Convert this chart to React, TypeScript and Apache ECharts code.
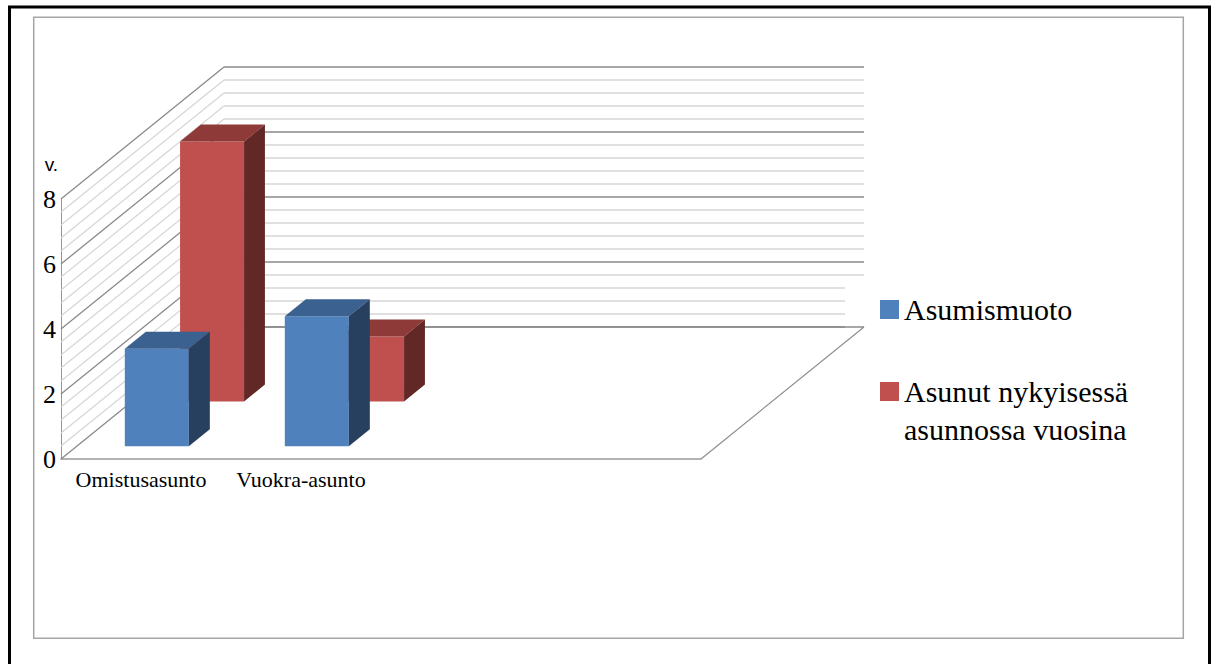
import React, { useEffect, useRef } from "react";
import * as echarts from "echarts";

// ---- data ----
const categories = ["Omistusasunto", "Vuokra-asunto", "", ""];
const seriesNames = ["Asumismuoto", "Asunut nykyisessä asunnossa vuosina"];
const asumismuoto = [3, 4];
const asunut = [8, 2];
const yMin = 0;
const yMax = 8;
const yInterval = 2;
const yMinorSplit = 5;

// ---- 3D look (style constants) ----
const DEPTH_X = 163 / 640; // depth shift as share of plot width
const DEPTH_Y = 132 / 260; // depth shift as share of plot height
const SERIF = "Liberation Serif";
const SANS = "Liberation Sans";

function depthVec(cs: any) {
  return [cs.width * DEPTH_X, -cs.height * DEPTH_Y];
}

function makeBar3d(d0: number, d1: number, front: string, top: string, side: string) {
  return (params: any, api: any) => {
    const cs = params.coordSys;
    const [Dx, Dy] = depthVec(cs);
    const cat = api.value(0);
    const val = api.value(1);
    const b = api.coord([cat, 0]);
    const t = api.coord([cat, val]);
    const band = api.size([1, 0])[0];
    const w = band * 0.4;
    const xl = b[0] - w / 2;
    const xr = b[0] + w / 2;
    const p = (x: number, y: number, d: number) => [x + Dx * d, y + Dy * d];
    return {
      type: "group",
      children: [
        {
          type: "polygon",
          shape: { points: [p(xl, t[1], d0), p(xr, t[1], d0), p(xr, b[1], d0), p(xl, b[1], d0)] },
          style: { fill: front },
        },
        {
          type: "polygon",
          shape: { points: [p(xl, t[1], d0), p(xr, t[1], d0), p(xr, t[1], d1), p(xl, t[1], d1)] },
          style: { fill: top },
        },
        {
          type: "polygon",
          shape: { points: [p(xr, t[1], d0), p(xr, t[1], d1), p(xr, b[1], d1), p(xr, b[1], d0)] },
          style: { fill: side },
        },
      ],
    };
  };
}

function renderSideWall(params: any, api: any) {
  const cs = params.coordSys;
  const [Dx, Dy] = depthVec(cs);
  const children: any[] = [];
  const steps = ((yMax - yMin) / yInterval) * yMinorSplit;
  for (let k = steps; k >= 0; k--) {
    const v = yMin + (k * yInterval) / yMinorSplit;
    const y = api.coord([0, v])[1];
    const major = k % yMinorSplit === 0;
    children.push({
      type: "line",
      shape: { x1: cs.x, y1: y, x2: cs.x + Dx, y2: y + Dy },
      style: { stroke: major ? "#8a8a8a" : "#d6d6d6", lineWidth: major ? 1.3 : 1.2 },
      z2: major ? 2 : 1,
    });
  }
  return { type: "group", children };
}

function renderBackEdge(params: any, api: any) {
  const cs = params.coordSys;
  const [Dx, Dy] = depthVec(cs);
  const y0 = api.coord([0, yMin])[1];
  return {
    type: "line",
    shape: { x1: cs.x + Dx, y1: y0 + Dy, x2: cs.x + cs.width + Dx, y2: y0 + Dy },
    style: { stroke: "#8a8a8a", lineWidth: 1.5 },
  };
}

function renderFloorSide(params: any, api: any) {
  const cs = params.coordSys;
  const [Dx, Dy] = depthVec(cs);
  const y0 = api.coord([0, yMin])[1];
  const xr = cs.x + cs.width;
  return {
    type: "line",
    shape: { x1: xr, y1: y0, x2: xr + Dx, y2: y0 + Dy },
    style: { stroke: "#8e8e8e", lineWidth: 1.2 },
  };
}

export default function App() {
  const ref = useRef<HTMLDivElement>(null);
  useEffect(() => {
    if (!ref.current) return;
    const chart = echarts.init(ref.current, undefined, { renderer: "svg" });
    const option: any = {
      animation: false,
      backgroundColor: "#fff",
      grid: [
        { left: 61, top: 199, width: 640, height: 260 },
        { left: 224, top: 67, width: 640, height: 260 },
      ],
      xAxis: [
        {
          type: "category",
          gridIndex: 0,
          data: categories,
          axisLine: { show: true, lineStyle: { color: "#9a9a9a", width: 1.5 } },
          axisTick: { show: false },
          axisLabel: { fontFamily: SERIF, fontSize: 22, color: "#000", margin: 9, interval: 0 },
          splitLine: { show: false },
        },
        {
          type: "value",
          gridIndex: 1,
          min: 0,
          max: 1,
          show: false,
        },
      ],
      yAxis: [
        {
          type: "value",
          gridIndex: 0,
          min: yMin,
          max: yMax,
          interval: yInterval,
          name: "v.",
          nameLocation: "end",
          nameGap: 25,
          nameTextStyle: {
            fontFamily: SANS,
            fontSize: 19,
            color: "#000",
            align: "right",
            verticalAlign: "bottom",
            padding: [0, 3, 0, 0],
          },
          axisLine: { show: true, lineStyle: { color: "#8f8fcf", width: 1 } },
          axisTick: { show: false },
          axisLabel: { fontFamily: SERIF, fontSize: 26, color: "#000", margin: 5 },
          splitLine: { show: false },
        },
        {
          type: "value",
          gridIndex: 1,
          min: yMin,
          max: yMax,
          interval: yInterval,
          axisLine: { show: false },
          axisTick: { show: false },
          axisLabel: { show: false },
          minorTick: { show: false, splitNumber: yMinorSplit },
          splitLine: { show: true, lineStyle: { color: "#8a8a8a", width: 1.5 } },
          minorSplitLine: { show: true, lineStyle: { color: "#d6d6d6", width: 1.5 } },
        },
      ],
      legend: {
        orient: "vertical",
        left: 845,
        top: 282,
        padding: [8.5, 10, 10, 35],
        itemGap: 6,
        itemWidth: 19,
        itemHeight: 19,
        icon: "rect",
        backgroundColor: "#fff",
        selectedMode: false,
        textStyle: { fontFamily: SERIF, fontSize: 30, lineHeight: 38, color: "#000" },
        data: [seriesNames[0], seriesNames[1]],
        formatter: (name: string) =>
          name === seriesNames[1] ? "\n" + name.replace(" asunnossa", "\nasunnossa") : name,
      },
      graphic: [
        {
          type: "rect",
          shape: { x: 9.5, y: 7, width: 1200, height: 700 },
          style: { fill: "none", stroke: "#000", lineWidth: 3 },
          silent: true,
        },
        {
          type: "rect",
          shape: { x: 33.7, y: 17.3, width: 1149.6, height: 621 },
          style: { fill: "none", stroke: "#a5a5a5", lineWidth: 1.5 },
          silent: true,
        },
      ],
      series: [
        {
          type: "custom",
          name: "sideWall",
          data: [[0, 0]],
          renderItem: renderSideWall,
          silent: true,
          clip: false,
          z: 1,
        },
        {
          type: "custom",
          name: "backEdge",
          data: [[0, 0]],
          renderItem: renderBackEdge,
          silent: true,
          clip: false,
          z: 4.5,
        },
        {
          type: "custom",
          name: seriesNames[1],
          data: asunut.map((v, i) => [i, v]),
          renderItem: makeBar3d(0.436, 0.564, "#c0504d", "#8e3a38", "#612826"),
          itemStyle: { color: "#c0504d" },
          clip: false,
          z: 5,
        },
        {
          type: "custom",
          name: seriesNames[0],
          data: asumismuoto.map((v, i) => [i, v]),
          renderItem: makeBar3d(0.097, 0.226, "#4f81bd", "#3b6190", "#27405f"),
          itemStyle: { color: "#4f81bd" },
          clip: false,
          z: 6,
        },
        {
          type: "custom",
          name: "floorSide",
          data: [[0, 0]],
          renderItem: renderFloorSide,
          silent: true,
          clip: false,
          z: 10,
        },
      ],
    };
    chart.setOption(option);
    return () => chart.dispose();
  }, []);
  return (
    <div
      ref={ref}
      style={{ position: "fixed", left: 0, top: 0, width: 1216, height: 664 }}
    />
  );
}
